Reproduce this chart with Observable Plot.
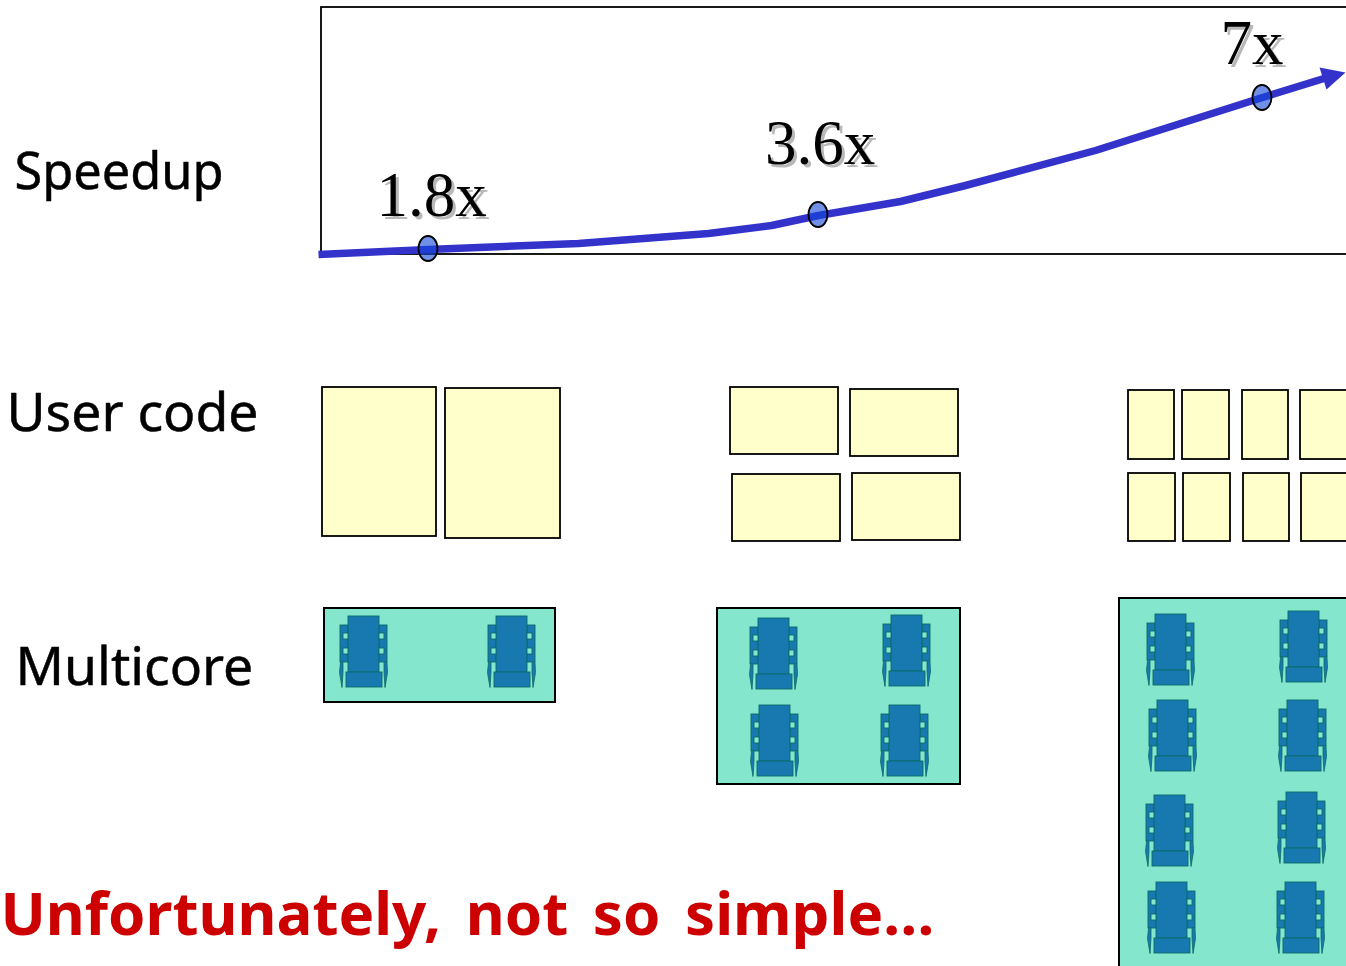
<!DOCTYPE html>
<html>
<head>
<meta charset="utf-8">
<script src="https://cdn.jsdelivr.net/npm/d3@7"></script>
<script src="https://cdn.jsdelivr.net/npm/@observablehq/plot@0.6"></script>
<style>
  html, body { margin: 0; padding: 0; background: #fff; overflow: hidden; }
  svg { display: block; }
  .remark text { word-spacing: 9px; }
</style>
</head>
<body>
<div id="chart"></div>
<script>
// Row headings and the closing remark
const speedupHeading = [{text: "Speedup", x: 14, y: 172}];
const codeHeading = [{text: "User code", x: 6, y: 413}];
const multicoreHeading = [{text: "Multicore", x: 15, y: 667}];
const closingRemark = [{text: "Unfortunately, not so simple…", x: 0, y: 915}];

// Speedup curve, its annotated points and its arrowhead
const curve = [
  {x: 318, y: 254}, {x: 428, y: 249}, {x: 578, y: 243}, {x: 708, y: 233},
  {x: 771, y: 225}, {x: 818, y: 215}, {x: 900, y: 201}, {x: 965, y: 185},
  {x: 1095, y: 150}, {x: 1262, y: 97}, {x: 1330, y: 76}
];
const arrowHead = [{x: 1345, y: 72}, {x: 1319, y: 67}, {x: 1326, y: 89}];
const speedups = [
  {text: "1.8x", x: 427.5, y: 248, labelX: 431, labelY: 195},
  {text: "3.6x", x: 817.5, y: 214, labelX: 819.5, labelY: 143},
  {text: "7x", x: 1261.5, y: 97, labelX: 1251.5, labelY: 43}
];
const plotFrame = [{x1: 321, y1: 7, x2: 1370, y2: 254}];

// Blocks of user code: two, four, then eight pieces
const codeBlocks = [
  [322, 387, 436, 536], [445, 388, 560, 538],
  [730, 387, 838, 454], [850, 389, 958, 456], [732, 474, 840, 541], [852, 473, 960, 540],
  [1128, 390, 1174, 459], [1182, 390, 1229, 459], [1242, 390, 1288, 459], [1300, 390, 1370, 459],
  [1128, 473, 1175, 541], [1183, 473, 1230, 541], [1243, 473, 1289, 541], [1301, 473, 1370, 541]
];

// Boards holding two, four and eight cores
const boards = [
  [324, 608, 555, 702],
  [717, 608, 960, 784],
  [1119, 598, 1370, 990]
];
const cores = [
  [364, 616], [512, 616],
  [774, 618], [907, 615], [775, 705], [905, 705],
  [1171, 614], [1304, 611], [1173, 700], [1303, 700],
  [1170, 795], [1302, 792], [1172, 882], [1301, 882]
];

// Outline of one core, relative to its top centre
const coreRects = [
  [-24, 9, -16, 46], [15, 9, 23, 46],
  [-16, 0, 15, 56], [-18, 56, 18, 71]
];
const coreWindows = [
  [-21, 17, -16, 23], [-21, 32, -16, 38], [15, 17, 20, 23], [15, 32, 20, 38]
];
const coreLegs = [
  [[-24, 46], [-25, 56], [-22.5, 71], [-21.5, 56], [-21.5, 46]],
  [[22.5, 46], [23, 56], [20.5, 71], [19.5, 56], [19.5, 46]]
];

const toRect = ([x1, y1, x2, y2]) => ({x1, y1, x2, y2});
const coreParts = (parts) => cores.flatMap(([cx, top]) =>
  parts.map(([a, b, c, d]) => ({x1: cx + a, y1: top + b, x2: cx + c, y2: top + d})));
const legPoints = cores.flatMap(([cx, top], i) =>
  coreLegs.flatMap((leg, j) =>
    leg.map(([dx, dy]) => ({x: cx + dx, y: top + dy, leg: `${i}-${j}`}))));

// An upright ellipse for the points on the curve
const tallEllipse = {
  draw(context, size) {
    const r = Math.sqrt(size / Math.PI), rx = r * 0.76, ry = r, k = 0.5523;
    context.moveTo(rx, 0);
    context.bezierCurveTo(rx, k * ry, k * rx, ry, 0, ry);
    context.bezierCurveTo(-k * rx, ry, -rx, k * ry, -rx, 0);
    context.bezierCurveTo(-rx, -k * ry, -k * rx, -ry, 0, -ry);
    context.bezierCurveTo(k * rx, -ry, rx, -k * ry, rx, 0);
    context.closePath();
  }
};

const handFont = "'Noto Sans', sans-serif";
const serifFont = "'Liberation Serif', 'Times New Roman', serif";
const rect = (data, options) => Plot.rect(data, {x1: "x1", y1: "y1", x2: "x2", y2: "y2", ...options});
const heading = (data, fontSize) => Plot.text(data, {x: "x", y: "y", text: "text", textAnchor: "start", fontFamily: handFont, fontSize, fill: "#000", stroke: "#000", strokeWidth: 0.5});

const chart = Plot.plot({
  width: 1346,
  height: 966,
  margin: 0,
  x: {domain: [0, 1346], range: [0, 1346], axis: null},
  y: {domain: [0, 966], range: [0, 966], axis: null},
  style: {background: "#fff"},
  marks: [
    rect(plotFrame, {fill: "none", stroke: "#000", strokeWidth: 1.8}),
    rect(codeBlocks.map(toRect), {fill: "#ffffcc", stroke: "#000", strokeWidth: 1.8}),
    rect(boards.map(toRect), {fill: "#84e6cc", stroke: "#000", strokeWidth: 2}),

    rect(coreParts(coreRects), {fill: "#1878b0", stroke: "#0a6a68", strokeWidth: 0.9}),
    Plot.line(legPoints, {x: "x", y: "y", z: "leg", fill: "#1878b0", stroke: "#0a6a68", strokeWidth: 0.8, curve: "linear-closed"}),
    rect(coreParts(coreWindows), {fill: "#84e6cc", stroke: "#0a6a68", strokeWidth: 0.9}),

    Plot.line(curve, {x: "x", y: "y", stroke: "#3333cc", strokeWidth: 7.5, strokeLinecap: "butt", curve: "linear"}),
    Plot.line(arrowHead, {x: "x", y: "y", fill: "#3333cc", stroke: "none", curve: "linear-closed"}),
    Plot.dot(speedups, {x: "x", y: "y", r: 12.5, symbol: tallEllipse, fill: "rgb(17,70,217)", fillOpacity: 0.6, stroke: "#000", strokeWidth: 1.8}),

    // Drop shadow under each speedup figure, then the figure itself
    Plot.text(speedups, {x: "labelX", y: "labelY", text: "text", dx: 3, dy: 3, fontFamily: serifFont, fontSize: 63, fill: "#b8b8b8"}),
    Plot.text(speedups, {x: "labelX", y: "labelY", text: "text", fontFamily: serifFont, fontSize: 63, fill: "#000"}),

    heading(speedupHeading, 50.5),
    heading(codeHeading, 53.5),
    heading(multicoreHeading, 53.5),
    Plot.text(closingRemark, {x: "x", y: "y", text: "text", textAnchor: "start", fontFamily: handFont, fontWeight: "bold", fontSize: 60, fill: "#cc0000", className: "remark"})
  ]
});
document.getElementById("chart").append(chart);
</script>
</body>
</html>
